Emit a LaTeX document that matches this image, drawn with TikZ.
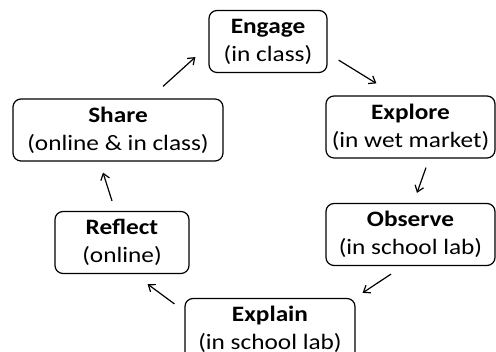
\documentclass[tikz,border=0pt]{standalone}
\usepackage{fontspec}
\setmainfont{Carlito}[FakeStretch=1.15]
\usetikzlibrary{arrows.meta}

\begin{document}
\begin{tikzpicture}[x=1pt, y=1pt, >={Straight Barb[length=6pt,width=9pt]},
    stage/.style={draw, line width=1.2pt, rounded corners=8pt, align=center,
        inner sep=0pt, minimum height=62pt,
        font=\fontsize{22}{28}\selectfont},
    cycle/.style={->, line width=1.2pt}]

    % page frame (same size as the reference)
    \useasboundingbox (0,0) rectangle (496,352);

    % Stages of the cycle
    \node[stage, minimum width=118pt] (engage)  at (268, 310.5) {\textbf{Engage}\\(in class)};
    \node[stage, minimum width=169pt] (explore) at (410.5, 225) {\textbf{Explore}\\(in wet market)};
    \node[stage, minimum width=169pt] (observe) at (410.5, 117.5) {\textbf{Observe}\\(in school lab)};
    \node[stage, minimum width=170pt] (explain) at (270, 22.5) {\textbf{Explain}\\(in school lab)};
    \node[stage, minimum width=134pt] (reflect) at (122, 109.5) {\textbf{Reflect}\\(online)};
    \node[stage, minimum width=210pt] (share)   at (118, 222) {\textbf{Share}\\(online \& in class)};

    % Arrows between stages (short, free-standing)
    \draw[cycle] ([shift={(45,12)}]share.north) -- ([shift={(-13,16)}]engage.south west);
    \draw[cycle] ([shift={(11,13)}]engage.south east) -- ([shift={(51,12)}]explore.north west);
    \draw[cycle] ([shift={(15.5,-9)}]explore.south) -- ([shift={(6.5,10)}]observe.north);
    \draw[cycle] ([shift={(-19.5,-8)}]observe.south) -- ([shift={(7,5)}]explain.north east);
    \draw[cycle] ([shift={(-10,-6)}]explain.north west) -- ([shift={(-42,-10)}]reflect.south east);
    \draw[cycle] ([shift={(-10,10)}]reflect.north) -- ([shift={(-15,-11)}]share.south);

\end{tikzpicture}
\end{document}
